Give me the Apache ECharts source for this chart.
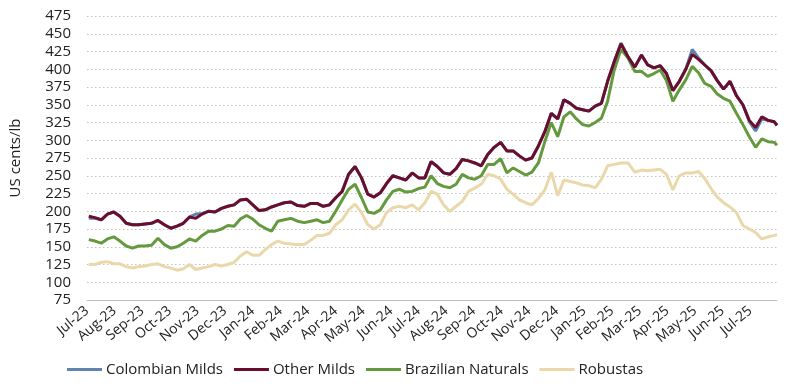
<!DOCTYPE html>
<html>
<head>
<meta charset="utf-8">
<script src="https://cdn.jsdelivr.net/npm/echarts@6/dist/echarts.min.js"></script>
<style>
html,body{margin:0;padding:0;background:#fff;}
#chart{width:804px;height:390px;}
</style>
</head>
<body>
<div id="chart"></div>
<script>
// Weekly observation dates
const dates = [
'2023-07-03','2023-07-10','2023-07-17','2023-07-24','2023-07-31','2023-08-07','2023-08-14','2023-08-21','2023-08-28',
'2023-09-04','2023-09-11','2023-09-18','2023-09-25','2023-10-02','2023-10-09','2023-10-16','2023-10-23','2023-10-30',
'2023-11-06','2023-11-13','2023-11-20','2023-11-27','2023-12-04','2023-12-11','2023-12-18','2023-12-25',
'2024-01-01','2024-01-08','2024-01-15','2024-01-22','2024-01-29','2024-02-05','2024-02-12','2024-02-19','2024-02-26',
'2024-03-04','2024-03-11','2024-03-18','2024-03-25','2024-04-01','2024-04-08','2024-04-15','2024-04-22','2024-04-29',
'2024-05-06','2024-05-13','2024-05-20','2024-05-27','2024-06-03','2024-06-10','2024-06-17','2024-06-24',
'2024-07-01','2024-07-08','2024-07-15','2024-07-22','2024-07-29','2024-08-05','2024-08-12','2024-08-19','2024-08-26',
'2024-09-02','2024-09-09','2024-09-16','2024-09-23','2024-09-30','2024-10-07','2024-10-14','2024-10-21','2024-10-28',
'2024-11-04','2024-11-11','2024-11-18','2024-11-25','2024-12-02','2024-12-09','2024-12-16','2024-12-23','2024-12-30',
'2025-01-06','2025-01-13','2025-01-20','2025-01-27','2025-02-03','2025-02-10','2025-02-17','2025-02-24',
'2025-03-03','2025-03-10','2025-03-17','2025-03-24','2025-03-31','2025-04-07','2025-04-14','2025-04-21','2025-04-28',
'2025-05-05','2025-05-12','2025-05-19','2025-05-26','2025-06-02','2025-06-09','2025-06-16','2025-06-23','2025-06-30',
'2025-07-07','2025-07-14','2025-07-21','2025-07-28','2025-07-31'
];

const colombianMilds = [
190,190,188,196,199,193,183,181,181,182,183,187,181,176,179,183,192,196,197,200,199,204,207,209,216,217,
209,201,202,206,209,212,213,208,207,211,211,207,209,219,228,252,263,247,224,220,226,239,250,247,244,254,247,247,
270,263,254,252,260,273,271,268,264,280,290,297,285,285,278,272,275,292,312,338,330,357,352,345,343,
341,348,352,383,410,437,418,403,420,406,402,405,394,370,383,400,428,416,406,398,384,372,383,363,350,326,313,330,328,326,321
];

const otherMilds = [
193,191,188,196,199,193,183,181,181,182,183,187,181,176,179,183,192,190,196,200,199,204,207,209,216,217,
209,201,202,206,209,212,213,208,207,211,211,207,209,219,228,252,263,247,224,220,226,239,250,247,244,254,247,247,
270,263,254,252,260,273,271,268,264,280,290,297,285,285,278,272,275,292,312,338,330,357,352,345,343,
341,348,352,383,410,436,418,403,420,406,402,405,394,370,383,400,421,414,406,398,384,372,383,363,350,328,318,333,328,326,321
];

const brazilianNaturals = [
160,158,155,161,164,158,151,148,151,151,152,162,153,148,150,155,161,158,166,172,172,175,180,179,189,194,
189,181,176,172,186,188,190,186,184,186,188,184,186,200,216,231,238,219,199,197,202,216,228,231,227,228,232,234,
250,239,235,233,238,252,247,245,250,266,266,274,254,261,256,251,255,268,298,325,305,333,340,330,322,
320,325,331,355,398,428,416,397,397,390,394,399,384,355,371,385,404,395,380,376,365,359,355,338,322,305,290,302,298,297,293
];

const robustas = [
125,125,128,129,126,126,122,120,122,123,125,126,122,120,117,119,125,118,120,122,125,123,125,128,137,143,
138,138,146,153,158,155,154,153,153,159,166,166,169,181,188,202,210,198,181,175,181,198,205,207,205,209,202,212,
228,224,209,200,207,214,228,233,238,252,250,245,231,224,216,212,209,218,230,255,222,244,242,240,237,
236,233,245,264,266,268,268,255,258,257,258,259,252,230,250,254,254,256,246,232,220,212,206,198,180,175,170,161,164,166,167
];

const monthLabels = ['Jul-23','Aug-23','Sep-23','Oct-23','Nov-23','Dec-23','Jan-24','Feb-24','Mar-24','Apr-24','May-24','Jun-24',
'Jul-24','Aug-24','Sep-24','Oct-24','Nov-24','Dec-24','Jan-25','Feb-25','Mar-25','Apr-25','May-25','Jun-25','Jul-25'];

const seriesNames = ['Colombian Milds','Other Milds','Brazilian Naturals','Robustas'];
const colors = {'Colombian Milds':'#5f84b0','Other Milds':'#6b0d2c','Brazilian Naturals':'#64993d','Robustas':'#ead8aa'};

// months since 2023-07-01
function monthPos(s){
  const [y,m,d] = s.split('-').map(Number);
  const dim = new Date(y, m, 0).getDate();
  return (y-2023)*12 + (m-7) + (d-1)/dim;
}
const xs = dates.map(monthPos);
function pairs(vals){ return vals.map((v,i)=>[xs[i], v]); }

const dataMap = {
  'Colombian Milds': colombianMilds,
  'Other Milds': otherMilds,
  'Brazilian Naturals': brazilianNaturals,
  'Robustas': robustas
};
const drawOrder = ['Robustas','Brazilian Naturals','Colombian Milds','Other Milds'];

const chart = echarts.init(document.getElementById('chart'), null, {renderer:'canvas'});
const font = "'Open Sans', sans-serif";
chart.setOption({
  animation:false,
  backgroundColor:'#fff',
  textStyle:{fontFamily:font},
  grid:{left:87, right:27, top:16, bottom:90},
  legend:{
    data:seriesNames,
    left:67, top:362, padding:0,
    icon:'rect', itemWidth:35, itemHeight:3, itemGap:11,
    textStyle:{fontFamily:font, fontSize:15, color:'#222', padding:[0,0,0,-1]}
  },
  xAxis:{
    type:'value', min:0, max:xs[xs.length-1], interval:1,
    axisLine:{show:true, lineStyle:{color:'#bfbfbf', width:1}},
    axisTick:{show:false},
    splitLine:{show:false},
    axisLabel:{
      rotate:40, fontSize:14, color:'#222', fontFamily:font, margin:9,
      showMaxLabel:false,
      formatter:(v)=>{ const i=Math.round(v); return (Math.abs(v-i)<1e-6 && monthLabels[i]) ? monthLabels[i] : ''; }
    }
  },
  yAxis:{
    type:'value', min:75, max:475, interval:25,
    name:'US cents/lb', nameLocation:'middle', nameGap:64, nameRotate:90,
    nameTextStyle:{fontSize:15, color:'#222', fontFamily:font},
    axisLine:{show:false}, axisTick:{show:false},
    axisLabel:{fontSize:15, color:'#222', fontFamily:font, margin:16},
    splitLine:{show:true, lineStyle:{color:'#c2c2c2', type:[1.5,2.5], width:1}}
  },
  series: drawOrder.map(n=>({
    name:n, type:'line', showSymbol:false, symbol:'none',
    data:pairs(dataMap[n]),
    lineStyle:{color:colors[n], width:3},
    itemStyle:{color:colors[n]}
  }))
});
</script>
</body>
</html>
